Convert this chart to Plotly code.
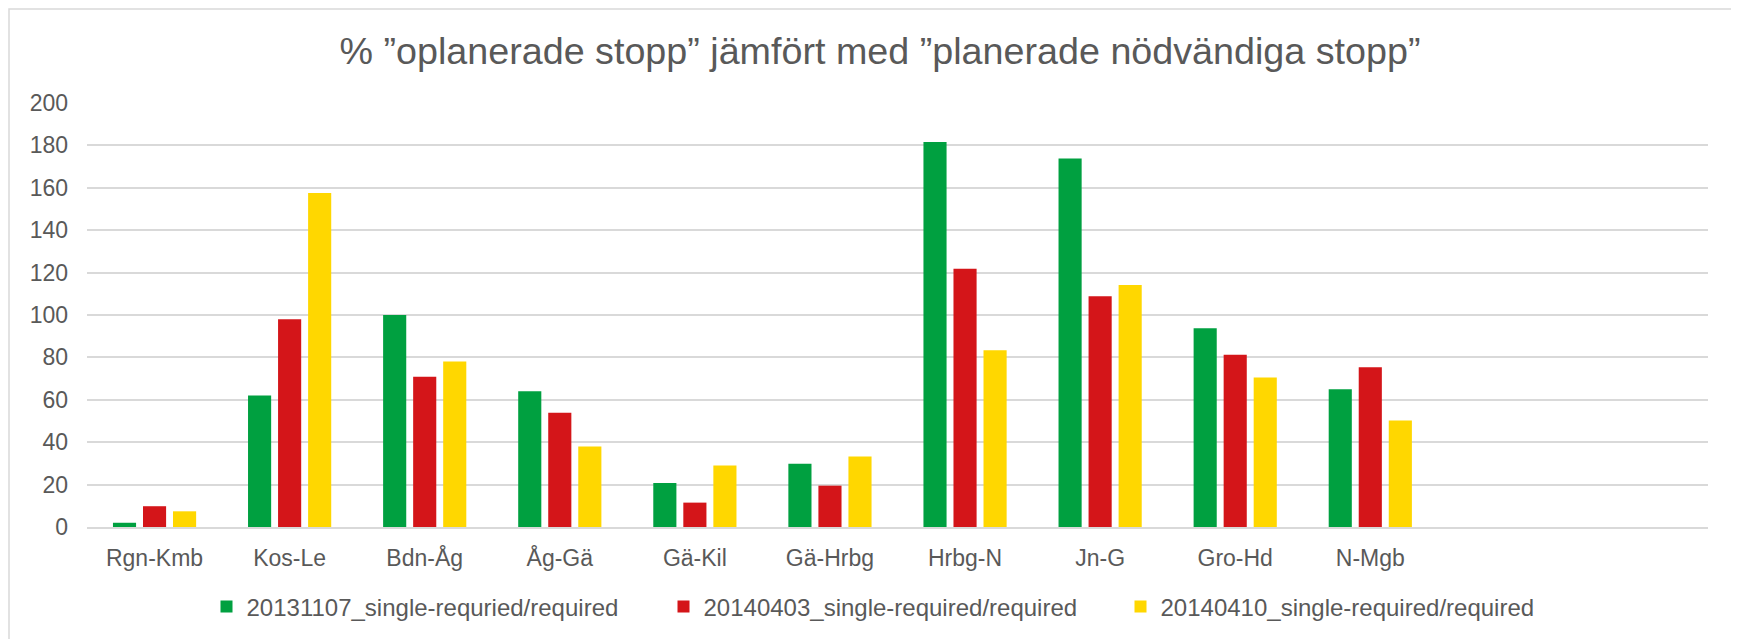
import plotly.graph_objects as go

categories = ["Rgn-Kmb", "Kos-Le", "Bdn-Åg", "Åg-Gä", "Gä-Kil", "Gä-Hrbg",
              "Hrbg-N", "Jn-G", "Gro-Hd", "N-Mgb"]
s_20131107 = [2.0, 62.0, 100.0, 64.0, 20.8, 29.8, 181.6, 173.8, 93.7, 65.0]
s_20140403 = [9.8, 98.0, 70.9, 53.9, 11.5, 19.5, 121.8, 108.8, 81.2, 75.4]
s_20140410 = [7.4, 157.5, 78.1, 38.0, 29.0, 33.2, 83.4, 114.1, 70.5, 50.2]
series_names = ["20131107_single-requried/required",
                "20140403_single-required/required",
                "20140410_single-required/required"]
y_ticks = [0, 20, 40, 60, 80, 100, 120, 140, 160, 180, 200]

colors = ["#00A040", "#D41519", "#FFD700"]
font_color = "#595959"
# page body has an 8px margin, so the figure is sized to fit the window
W, H = 1731, 631
ML, MR, MT, MB = 79, 31, 95, 112
PW, PH = W - ML - MR, H - MT - MB

fig = go.Figure()
for name, vals, c in zip(series_names, [s_20131107, s_20140403, s_20140410], colors):
    fig.add_trace(go.Bar(x=categories, y=vals, name=name, marker_color=c,
                         marker_line_width=0))

fig.update_layout(
    width=W, height=H,
    template="plotly_white",
    paper_bgcolor="white", plot_bgcolor="white",
    font=dict(family="Liberation Sans, Arial", color=font_color, size=23),
    title=dict(text="% ”oplanerade stopp” jämfört med ”planerade nödvändiga stopp”",
               x=872 / W, xanchor="center", y=1 - 43 / H, yanchor="middle",
               yref="container", font=dict(size=37.7, color=font_color)),
    margin=dict(l=ML, r=MR, t=MT, b=MB, autoexpand=False),
    barmode="group", bargap=0.333, bargroupgap=0.23,
    legend=dict(orientation="h", x=0.5 - 5.5 / PW, xanchor="center", y=-80 / PH,
                yanchor="middle", font=dict(size=24, color=font_color),
                entrywidth=412, entrywidthmode="pixels", itemwidth=30),
    xaxis=dict(range=[-0.5, 11.5], showgrid=False, showline=True, linecolor="#D9D9D9",
               linewidth=2, ticks="", ticklabelstandoff=9),
    yaxis=dict(range=[0, 200], tickvals=y_ticks, showgrid=True, gridcolor="#D9D9D9",
               gridwidth=2, zeroline=False, showline=False, ticks="",
               ticklabelstandoff=18),
)

# outer chart border
fig.add_shape(type="rect", xref="paper", yref="paper",
              x0=(1 - ML) / PW, x1=(W - 2 - ML) / PW,
              y0=-(MB + 10) / PH, y1=1 + (MT - 1) / PH,
              line=dict(color="#D9D9D9", width=1.5), layer="below")

fig.write_html("out.html")
